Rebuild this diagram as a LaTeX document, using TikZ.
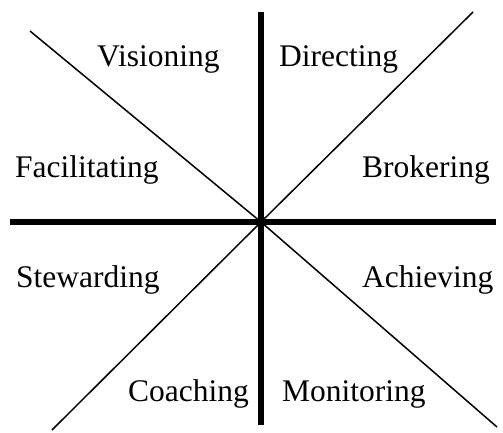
\documentclass[tikz,border=0pt]{standalone}
\usepackage{fontspec}
\setmainfont{Liberation Serif}
\begin{document}
\begin{tikzpicture}[x=1pt,y=-1pt,
  axis/.style={line width=5.5pt},
  diag/.style={line width=1.5pt},
  lab/.style={anchor=base west,inner sep=0pt,font=\fontsize{31.5}{38}\selectfont}]
\useasboundingbox (0,0) rectangle (503,432);
\coordinate (c) at (261,222);
\coordinate (tl) at (30,31);
\coordinate (tr) at (473,12);
\coordinate (bl) at (52,430);
\coordinate (br) at (497,427);
\coordinate (top) at (261,12);
\coordinate (bot) at (261,425);
\coordinate (lft) at (10,222);
\coordinate (rgt) at (496,222);
\draw[diag] (tl) -- (c) -- (br);
\draw[diag] (bl) -- (c) -- (tr);
\draw[axis] (top) -- (bot);
\draw[axis] (lft) -- (rgt);
\node[lab] (vis) at (97,66) {Visioning};
\node[lab] (dir) at (279,66) {Directing};
\node[lab] (fac) at (15,177) {Facilitating};
\node[lab] (bro) at (362,177) {Brokering};
\node[lab] (ste) at (16,287) {Stewarding};
\node[lab] (ach) at (362,287) {Achieving};
\node[lab] (coa) at (128,401) {Coaching};
\node[lab] (mon) at (282,401) {Monitoring};
\end{tikzpicture}
\end{document}
